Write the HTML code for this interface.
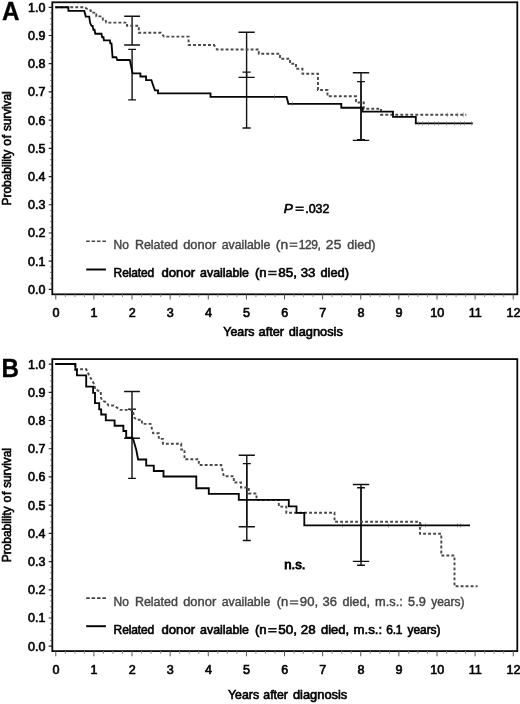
<!DOCTYPE html>
<html><head><meta charset="utf-8"><title>Survival curves</title>
<style>
html,body{margin:0;padding:0;background:#fff;}
body{width:520px;height:704px;overflow:hidden;font-family:"Liberation Sans",sans-serif;}
svg{display:block;will-change:transform;opacity:0.999;}
.t{font-family:"Liberation Sans",sans-serif;font-size:12px;fill:#000;stroke:#000;stroke-width:0.6px;}
.g{font-family:"Liberation Sans",sans-serif;font-size:12px;fill:#444;stroke:#444;stroke-width:0.4px;}
.n{stroke-width:0.8px;}
.L{font-family:"Liberation Sans",sans-serif;font-size:25px;font-weight:bold;fill:#000;stroke:#000;stroke-width:0.3px;}
.s{stroke:#050505;stroke-width:1.85;fill:none;stroke-linejoin:miter;}
.d{stroke:#4a4a4a;stroke-width:1.9;fill:none;stroke-dasharray:2.9,2.1;}
</style></head><body>
<svg width="520" height="704" viewBox="0 0 520 704">
<rect width="520" height="704" fill="#fff"/>
<!-- Panel A -->
<rect x="52.3" y="2.30" width="465.00" height="292.00" fill="none" stroke="#0a0a0a" stroke-width="1.8"/>
<path d="M48.699999999999996,289.40 H52.3 M48.699999999999996,261.19 H52.3 M48.699999999999996,232.98 H52.3 M48.699999999999996,204.77 H52.3 M48.699999999999996,176.56 H52.3 M48.699999999999996,148.35 H52.3 M48.699999999999996,120.14 H52.3 M48.699999999999996,91.93 H52.3 M48.699999999999996,63.72 H52.3 M48.699999999999996,35.51 H52.3 M48.699999999999996,7.30 H52.3 " stroke="#222" stroke-width="1.2" fill="none"/>
<path d="M50.199999999999996,283.76 H52.3 M50.199999999999996,278.12 H52.3 M50.199999999999996,272.47 H52.3 M50.199999999999996,266.83 H52.3 M50.199999999999996,255.55 H52.3 M50.199999999999996,249.91 H52.3 M50.199999999999996,244.26 H52.3 M50.199999999999996,238.62 H52.3 M50.199999999999996,227.34 H52.3 M50.199999999999996,221.70 H52.3 M50.199999999999996,216.05 H52.3 M50.199999999999996,210.41 H52.3 M50.199999999999996,199.13 H52.3 M50.199999999999996,193.49 H52.3 M50.199999999999996,187.84 H52.3 M50.199999999999996,182.20 H52.3 M50.199999999999996,170.92 H52.3 M50.199999999999996,165.28 H52.3 M50.199999999999996,159.63 H52.3 M50.199999999999996,153.99 H52.3 M50.199999999999996,142.71 H52.3 M50.199999999999996,137.07 H52.3 M50.199999999999996,131.42 H52.3 M50.199999999999996,125.78 H52.3 M50.199999999999996,114.50 H52.3 M50.199999999999996,108.86 H52.3 M50.199999999999996,103.21 H52.3 M50.199999999999996,97.57 H52.3 M50.199999999999996,86.29 H52.3 M50.199999999999996,80.65 H52.3 M50.199999999999996,75.00 H52.3 M50.199999999999996,69.36 H52.3 M50.199999999999996,58.08 H52.3 M50.199999999999996,52.44 H52.3 M50.199999999999996,46.79 H52.3 M50.199999999999996,41.15 H52.3 M50.199999999999996,29.87 H52.3 M50.199999999999996,24.23 H52.3 M50.199999999999996,18.58 H52.3 M50.199999999999996,12.94 H52.3 " stroke="#444" stroke-width="0.8" fill="none"/>
<path d="M55.80,294.30 V299.50 M93.92,294.30 V299.50 M132.04,294.30 V299.50 M170.16,294.30 V299.50 M208.28,294.30 V299.50 M246.40,294.30 V299.50 M284.52,294.30 V299.50 M322.64,294.30 V299.50 M360.76,294.30 V299.50 M398.88,294.30 V299.50 M437.00,294.30 V299.50 M475.12,294.30 V299.50 M513.24,294.30 V299.50 " stroke="#555" stroke-width="1.0" fill="none"/>
<path d="M65.33,294.30 V297.10 M74.86,294.30 V297.10 M84.39,294.30 V297.10 M103.45,294.30 V297.10 M112.98,294.30 V297.10 M122.51,294.30 V297.10 M141.57,294.30 V297.10 M151.10,294.30 V297.10 M160.63,294.30 V297.10 M179.69,294.30 V297.10 M189.22,294.30 V297.10 M198.75,294.30 V297.10 M217.81,294.30 V297.10 M227.34,294.30 V297.10 M236.87,294.30 V297.10 M255.93,294.30 V297.10 M265.46,294.30 V297.10 M274.99,294.30 V297.10 M294.05,294.30 V297.10 M303.58,294.30 V297.10 M313.11,294.30 V297.10 M332.17,294.30 V297.10 M341.70,294.30 V297.10 M351.23,294.30 V297.10 M370.29,294.30 V297.10 M379.82,294.30 V297.10 M389.35,294.30 V297.10 M408.41,294.30 V297.10 M417.94,294.30 V297.10 M427.47,294.30 V297.10 M446.53,294.30 V297.10 M456.06,294.30 V297.10 M465.59,294.30 V297.10 M484.65,294.30 V297.10 M494.18,294.30 V297.10 M503.71,294.30 V297.10 " stroke="#888" stroke-width="0.9" fill="none"/>
<text transform="translate(45.4,293.90) scale(1.04,1)" text-anchor="end" class="t">0.0</text>
<text transform="translate(45.4,265.69) scale(1.04,1)" text-anchor="end" class="t">0.1</text>
<text transform="translate(45.4,237.48) scale(1.04,1)" text-anchor="end" class="t">0.2</text>
<text transform="translate(45.4,209.27) scale(1.04,1)" text-anchor="end" class="t">0.3</text>
<text transform="translate(45.4,181.06) scale(1.04,1)" text-anchor="end" class="t">0.4</text>
<text transform="translate(45.4,152.85) scale(1.04,1)" text-anchor="end" class="t">0.5</text>
<text transform="translate(45.4,124.64) scale(1.04,1)" text-anchor="end" class="t">0.6</text>
<text transform="translate(45.4,96.43) scale(1.04,1)" text-anchor="end" class="t">0.7</text>
<text transform="translate(45.4,68.22) scale(1.04,1)" text-anchor="end" class="t">0.8</text>
<text transform="translate(45.4,40.01) scale(1.04,1)" text-anchor="end" class="t">0.9</text>
<text transform="translate(45.4,11.80) scale(1.04,1)" text-anchor="end" class="t">1.0</text>
<text transform="translate(56.00,317.20) scale(1.05,1)" text-anchor="middle" class="t">0</text>
<text transform="translate(94.12,317.20) scale(1.05,1)" text-anchor="middle" class="t">1</text>
<text transform="translate(132.24,317.20) scale(1.05,1)" text-anchor="middle" class="t">2</text>
<text transform="translate(170.36,317.20) scale(1.05,1)" text-anchor="middle" class="t">3</text>
<text transform="translate(208.48,317.20) scale(1.05,1)" text-anchor="middle" class="t">4</text>
<text transform="translate(246.60,317.20) scale(1.05,1)" text-anchor="middle" class="t">5</text>
<text transform="translate(284.72,317.20) scale(1.05,1)" text-anchor="middle" class="t">6</text>
<text transform="translate(322.84,317.20) scale(1.05,1)" text-anchor="middle" class="t">7</text>
<text transform="translate(360.96,317.20) scale(1.05,1)" text-anchor="middle" class="t">8</text>
<text transform="translate(399.08,317.20) scale(1.05,1)" text-anchor="middle" class="t">9</text>
<text transform="translate(437.20,317.20) scale(1.05,1)" text-anchor="middle" class="t">10</text>
<text transform="translate(475.32,317.20) scale(1.05,1)" text-anchor="middle" class="t">11</text>
<text transform="translate(513.44,317.20) scale(1.05,1)" text-anchor="middle" class="t">12</text>
<text transform="translate(1.9,19.50) scale(0.97,1)" class="L">A</text>
<g transform="translate(10.6,0) rotate(-90)">
<text transform="translate(-205.56,0.00) scale(1.0000,1)" class="t" letter-spacing="-0.018">Probability</text>
<text transform="translate(-145.68,0.00) scale(1.0000,1)" class="t" letter-spacing="0.720">of</text>
<text transform="translate(-131.06,0.00) scale(1.0000,1)" class="t" letter-spacing="-0.140">survival</text>
</g>
<text transform="translate(223.33,336.00) scale(1.0306,1)" class="t" letter-spacing="0.000">Years</text>
<text transform="translate(258.59,336.00) scale(1.0653,1)" class="t" letter-spacing="0.000">after</text>
<text transform="translate(288.69,336.00) scale(1.0703,1)" class="t" letter-spacing="0.000">diagnosis</text>
<path d="M132.1,16.2 V45.0 M124.19999999999999,16.2 H140.0 M124.19999999999999,45.0 H140.0" stroke="#111" stroke-width="1.4" fill="none"/>
<path d="M246.6,32.2 V77.4 M238.5,32.2 H254.7 M238.5,77.4 H254.7" stroke="#111" stroke-width="1.4" fill="none"/>
<path d="M361.0,72.8 V140.4 M352.8,72.8 H369.2 M352.8,140.4 H369.2" stroke="#111" stroke-width="1.4" fill="none"/>
<path d="M132.1,49.4 V99.9 M128.2,49.4 H136.0 M128.2,99.9 H136.0" stroke="#111" stroke-width="1.4" fill="none"/>
<path d="M246.6,72.1 V128.0 M242.5,72.1 H250.7 M242.5,128.0 H250.7" stroke="#111" stroke-width="1.4" fill="none"/>
<path d="M361.0,81.6 V139.6 M357.1,81.6 H364.9 M357.1,139.6 H364.9" stroke="#111" stroke-width="1.4" fill="none"/>
<path class="d" d="M55.3,7.2 H84.5 L87.7,9.3 L90.8,10.4 V12.6 H96.3 V16.4 H102.4 L103,19.8 H105.5 L106.2,22.6 H127 V25.8 H138.8 V32.7 H161 L164,36.6 H188.6 V45 H214 L217,49.5 H258.8 V53.8 H280 V58.8 H290 V63.8 H296 V68.8 H302.5 V73.8 H318 V90 H327.5 V96.3 H356 V102.5 H363.8 V108.8 H381 V114.8 H466.3"/>
<path class="s" d="M55.3,7.2 H68.4 V10.9 H84.3 L85.8,16.6 H89.2 L90.1,22.8 L91.5,25.8 H92.6 L93.4,29.7 H94.5 L95.3,33.7 H101.5 L102.2,37.2 H103.5 L103.9,40.3 H109.9 L110.3,43.4 H111.5 L112.6,57.2 H116.3 L117.3,60 H129.8 L132.6,73.3 H140.4 V76.5 H146.1 V80.1 H151.4 L153.7,87 L155,90.3 H158 V93.4 H210.5 V96.8 H286.6 L288.4,103.8 H341.3 V107.7 H362.5 V111.6 H393 V116.8 H415.8 V123.3 H472.8"/>
<text transform="translate(283.69,212.70) scale(1.1376,1)" class="t" letter-spacing="0.000" font-style="italic">P</text>
<path d="M295.50,207.30 H303.70 M295.50,210.25 H303.70" stroke="#111" stroke-width="1.5" fill="none"/>
<text transform="translate(305.18,212.70) scale(1.0405,1)" class="t" letter-spacing="0.000">.032</text>
<path d="M86.2,241.2 H105.9" stroke="#444" stroke-width="1.6" stroke-dasharray="3.5,1.9" fill="none"/>
<path d="M86.2,269.5 H105.9" stroke="#050505" stroke-width="2.0" fill="none"/>
<text transform="translate(113.59,248.60) scale(1.0000,1)" class="g" letter-spacing="-0.020">No</text>
<text transform="translate(134.90,248.60) scale(1.0404,1)" class="g" letter-spacing="0.000">Related</text>
<text transform="translate(183.18,248.60) scale(1.0767,1)" class="g" letter-spacing="0.000">donor</text>
<text transform="translate(221.71,248.60) scale(1.0255,1)" class="g" letter-spacing="0.000">available</text>
<text transform="translate(275.72,248.60) scale(1.1500,1)" class="g" letter-spacing="0.141">(n</text>
<path d="M289.60,243.20 H297.40 M289.60,246.15 H297.40" stroke="#626262" stroke-width="1.5" fill="none"/>
<text transform="translate(298.84,248.60) scale(1.0000,1)" class="g" letter-spacing="-0.487">129,</text>
<text transform="translate(325.86,248.60) scale(1.1500,1)" class="g" letter-spacing="0.282">25</text>
<text transform="translate(347.29,248.60) scale(1.0574,1)" class="g" letter-spacing="0.000">died)</text>
<text transform="translate(113.59,277.00) scale(1.0000,1)" class="t" letter-spacing="-0.117">Related</text>
<text transform="translate(161.47,277.00) scale(1.0967,1)" class="t" letter-spacing="-0.000">donor</text>
<text transform="translate(200.10,277.00) scale(1.0330,1)" class="t" letter-spacing="0.000">available</text>
<text transform="translate(254.91,277.00) scale(1.0965,1)" class="t" letter-spacing="0.000">(n</text>
<path d="M268.20,271.60 H276.60 M268.20,274.55 H276.60" stroke="#111" stroke-width="1.5" fill="none"/>
<text transform="translate(278.36,277.00) scale(1.1243,1)" class="t" letter-spacing="0.000">85,</text>
<text transform="translate(300.77,277.00) scale(1.1003,1)" class="t" letter-spacing="0.000">33</text>
<text transform="translate(320.49,277.00) scale(1.0692,1)" class="t" letter-spacing="0.000">died)</text>
<path d="M274.5,94.5 V99.1 M292.5,101.5 V106.1 M418.5,121.0 V125.6 M422.5,121.0 V125.6 M428.5,121.0 V125.6 M434.5,121.0 V125.6 M438.5,121.0 V125.6 M446.5,121.0 V125.6 M454.5,121.0 V125.6 M460.5,121.0 V125.6 M464.5,121.0 V125.6 M471.5,121.0 V125.6 M447.5,112.5 V117.1 M457.5,112.5 V117.1 M463.5,112.5 V117.1 M342.5,523.1 V527.7 M388.5,523.1 V527.7 M421.5,523.1 V527.7 M425.5,523.1 V527.7 M457.5,523.1 V527.7 M460.5,523.1 V527.7 " stroke="#777" stroke-width="0.7" fill="none" opacity="0.7"/>
<!-- Panel B -->
<rect x="52.3" y="359.10" width="465.00" height="292.00" fill="none" stroke="#0a0a0a" stroke-width="1.8"/>
<path d="M48.699999999999996,646.20 H52.3 M48.699999999999996,617.99 H52.3 M48.699999999999996,589.78 H52.3 M48.699999999999996,561.57 H52.3 M48.699999999999996,533.36 H52.3 M48.699999999999996,505.15 H52.3 M48.699999999999996,476.94 H52.3 M48.699999999999996,448.73 H52.3 M48.699999999999996,420.52 H52.3 M48.699999999999996,392.31 H52.3 M48.699999999999996,364.10 H52.3 " stroke="#222" stroke-width="1.2" fill="none"/>
<path d="M50.199999999999996,640.56 H52.3 M50.199999999999996,634.92 H52.3 M50.199999999999996,629.27 H52.3 M50.199999999999996,623.63 H52.3 M50.199999999999996,612.35 H52.3 M50.199999999999996,606.71 H52.3 M50.199999999999996,601.06 H52.3 M50.199999999999996,595.42 H52.3 M50.199999999999996,584.14 H52.3 M50.199999999999996,578.50 H52.3 M50.199999999999996,572.85 H52.3 M50.199999999999996,567.21 H52.3 M50.199999999999996,555.93 H52.3 M50.199999999999996,550.29 H52.3 M50.199999999999996,544.64 H52.3 M50.199999999999996,539.00 H52.3 M50.199999999999996,527.72 H52.3 M50.199999999999996,522.08 H52.3 M50.199999999999996,516.43 H52.3 M50.199999999999996,510.79 H52.3 M50.199999999999996,499.51 H52.3 M50.199999999999996,493.87 H52.3 M50.199999999999996,488.22 H52.3 M50.199999999999996,482.58 H52.3 M50.199999999999996,471.30 H52.3 M50.199999999999996,465.66 H52.3 M50.199999999999996,460.01 H52.3 M50.199999999999996,454.37 H52.3 M50.199999999999996,443.09 H52.3 M50.199999999999996,437.45 H52.3 M50.199999999999996,431.80 H52.3 M50.199999999999996,426.16 H52.3 M50.199999999999996,414.88 H52.3 M50.199999999999996,409.24 H52.3 M50.199999999999996,403.59 H52.3 M50.199999999999996,397.95 H52.3 M50.199999999999996,386.67 H52.3 M50.199999999999996,381.03 H52.3 M50.199999999999996,375.38 H52.3 M50.199999999999996,369.74 H52.3 " stroke="#444" stroke-width="0.8" fill="none"/>
<path d="M55.80,651.10 V656.30 M93.92,651.10 V656.30 M132.04,651.10 V656.30 M170.16,651.10 V656.30 M208.28,651.10 V656.30 M246.40,651.10 V656.30 M284.52,651.10 V656.30 M322.64,651.10 V656.30 M360.76,651.10 V656.30 M398.88,651.10 V656.30 M437.00,651.10 V656.30 M475.12,651.10 V656.30 M513.24,651.10 V656.30 " stroke="#555" stroke-width="1.0" fill="none"/>
<path d="M65.33,651.10 V653.90 M74.86,651.10 V653.90 M84.39,651.10 V653.90 M103.45,651.10 V653.90 M112.98,651.10 V653.90 M122.51,651.10 V653.90 M141.57,651.10 V653.90 M151.10,651.10 V653.90 M160.63,651.10 V653.90 M179.69,651.10 V653.90 M189.22,651.10 V653.90 M198.75,651.10 V653.90 M217.81,651.10 V653.90 M227.34,651.10 V653.90 M236.87,651.10 V653.90 M255.93,651.10 V653.90 M265.46,651.10 V653.90 M274.99,651.10 V653.90 M294.05,651.10 V653.90 M303.58,651.10 V653.90 M313.11,651.10 V653.90 M332.17,651.10 V653.90 M341.70,651.10 V653.90 M351.23,651.10 V653.90 M370.29,651.10 V653.90 M379.82,651.10 V653.90 M389.35,651.10 V653.90 M408.41,651.10 V653.90 M417.94,651.10 V653.90 M427.47,651.10 V653.90 M446.53,651.10 V653.90 M456.06,651.10 V653.90 M465.59,651.10 V653.90 M484.65,651.10 V653.90 M494.18,651.10 V653.90 M503.71,651.10 V653.90 " stroke="#888" stroke-width="0.9" fill="none"/>
<text transform="translate(45.4,650.70) scale(1.04,1)" text-anchor="end" class="t">0.0</text>
<text transform="translate(45.4,622.49) scale(1.04,1)" text-anchor="end" class="t">0.1</text>
<text transform="translate(45.4,594.28) scale(1.04,1)" text-anchor="end" class="t">0.2</text>
<text transform="translate(45.4,566.07) scale(1.04,1)" text-anchor="end" class="t">0.3</text>
<text transform="translate(45.4,537.86) scale(1.04,1)" text-anchor="end" class="t">0.4</text>
<text transform="translate(45.4,509.65) scale(1.04,1)" text-anchor="end" class="t">0.5</text>
<text transform="translate(45.4,481.44) scale(1.04,1)" text-anchor="end" class="t">0.6</text>
<text transform="translate(45.4,453.23) scale(1.04,1)" text-anchor="end" class="t">0.7</text>
<text transform="translate(45.4,425.02) scale(1.04,1)" text-anchor="end" class="t">0.8</text>
<text transform="translate(45.4,396.81) scale(1.04,1)" text-anchor="end" class="t">0.9</text>
<text transform="translate(45.4,368.60) scale(1.04,1)" text-anchor="end" class="t">1.0</text>
<text transform="translate(56.00,674.00) scale(1.05,1)" text-anchor="middle" class="t">0</text>
<text transform="translate(94.12,674.00) scale(1.05,1)" text-anchor="middle" class="t">1</text>
<text transform="translate(132.24,674.00) scale(1.05,1)" text-anchor="middle" class="t">2</text>
<text transform="translate(170.36,674.00) scale(1.05,1)" text-anchor="middle" class="t">3</text>
<text transform="translate(208.48,674.00) scale(1.05,1)" text-anchor="middle" class="t">4</text>
<text transform="translate(246.60,674.00) scale(1.05,1)" text-anchor="middle" class="t">5</text>
<text transform="translate(284.72,674.00) scale(1.05,1)" text-anchor="middle" class="t">6</text>
<text transform="translate(322.84,674.00) scale(1.05,1)" text-anchor="middle" class="t">7</text>
<text transform="translate(360.96,674.00) scale(1.05,1)" text-anchor="middle" class="t">8</text>
<text transform="translate(399.08,674.00) scale(1.05,1)" text-anchor="middle" class="t">9</text>
<text transform="translate(437.20,674.00) scale(1.05,1)" text-anchor="middle" class="t">10</text>
<text transform="translate(475.32,674.00) scale(1.05,1)" text-anchor="middle" class="t">11</text>
<text transform="translate(513.44,674.00) scale(1.05,1)" text-anchor="middle" class="t">12</text>
<text transform="translate(1.6,376.70) scale(0.97,1)" class="L">B</text>
<g transform="translate(10.6,0) rotate(-90)">
<text transform="translate(-562.36,0.00) scale(1.0000,1)" class="t" letter-spacing="-0.018">Probability</text>
<text transform="translate(-502.48,0.00) scale(1.0000,1)" class="t" letter-spacing="0.720">of</text>
<text transform="translate(-487.86,0.00) scale(1.0000,1)" class="t" letter-spacing="-0.140">survival</text>
</g>
<text transform="translate(228.03,698.50) scale(1.0272,1)" class="t" letter-spacing="0.000">Years</text>
<text transform="translate(263.31,698.50) scale(1.0266,1)" class="t" letter-spacing="0.000">after</text>
<text transform="translate(292.88,698.50) scale(1.0743,1)" class="t" letter-spacing="0.000">diagnosis</text>
<path d="M132.0,391.5 V438.2 M124.1,391.5 H139.9 M124.1,438.2 H139.9" stroke="#111" stroke-width="1.4" fill="none"/>
<path d="M246.8,455.2 V526.8 M238.70000000000002,455.2 H254.9 M238.70000000000002,526.8 H254.9" stroke="#111" stroke-width="1.4" fill="none"/>
<path d="M361.0,484.5 V561.4 M352.8,484.5 H369.2 M352.8,561.4 H369.2" stroke="#111" stroke-width="1.4" fill="none"/>
<path d="M132.0,409.3 V478.4 M128.1,409.3 H135.9 M128.1,478.4 H135.9" stroke="#111" stroke-width="1.4" fill="none"/>
<path d="M246.8,463.6 V540.5 M242.8,463.6 H250.8 M242.8,540.5 H250.8" stroke="#111" stroke-width="1.4" fill="none"/>
<path d="M361.0,487.8 V565.3 M357.1,487.8 H364.9 M357.1,565.3 H364.9" stroke="#111" stroke-width="1.4" fill="none"/>
<path class="d" d="M55.3,364.0 H75.2 V369.2 H86.3 L87.5,372 L90,377 L92.5,381 L94.5,385 L95.2,389.5 L100.8,391.6 V397.4 L102.3,400.8 L106.5,402.2 L108.5,405.5 H113.8 L117,407.6 L120,409.9 H132.5 L134.4,417.5 L136.3,419.8 H141.9 V423.9 H150.6 L153.1,433.2 H158.8 V438.9 H163 V443.8 H181.2 V449.5 H184.5 V459.3 H198.8 V465 H221.3 L223.8,476.3 H233.8 V482.5 H241 V487.5 H248.8 V493.5 H256.5 V500 H278.8 V506.6 H286.3 V512.8 H334.5 V521.8 H420 V533.8 H441.3 V555.5 H454.5 V586.3 H477.5"/>
<path class="s" d="M55.3,364.0 H75.4 V369.7 H76.9 V375.4 H86.2 V386.6 H93.1 V392.8 H95 V403.1 H99.2 V409.3 H101.2 V414.5 H105.8 V420.3 H114.6 V425.7 H123.4 V431 H126.2 V437.6 H132.5 L133.8,441.3 L136.3,450 L138.1,459.5 H146.2 V465.6 H153.8 V471 H163.5 V476.5 H196.3 V488.2 H208.8 V493.8 H238.8 V499.9 H288.8 V506.3 H296.5 V512.8 H304.3 V525.4 H470"/>
<text transform="translate(284.28,568.90) scale(1.0977,1)" class="t n" letter-spacing="0.000">n.s.</text>
<path d="M86.2,598.1 H105.9" stroke="#444" stroke-width="1.6" stroke-dasharray="3.5,1.9" fill="none"/>
<path d="M86.2,626.2 H105.9" stroke="#050505" stroke-width="2.0" fill="none"/>
<text transform="translate(113.59,606.30) scale(1.0000,1)" class="g" letter-spacing="-0.020">No</text>
<text transform="translate(134.90,606.30) scale(1.0404,1)" class="g" letter-spacing="0.000">Related</text>
<text transform="translate(183.18,606.30) scale(1.0767,1)" class="g" letter-spacing="0.000">donor</text>
<text transform="translate(221.71,606.30) scale(1.0255,1)" class="g" letter-spacing="0.000">available</text>
<text transform="translate(276.73,606.30) scale(1.0746,1)" class="g" letter-spacing="0.000">(n</text>
<path d="M289.90,600.90 H298.20 M289.90,603.85 H298.20" stroke="#626262" stroke-width="1.5" fill="none"/>
<text transform="translate(299.84,606.30) scale(1.0933,1)" class="g" letter-spacing="0.000">90,</text>
<text transform="translate(322.48,606.30) scale(1.0841,1)" class="g" letter-spacing="0.000">36</text>
<text transform="translate(342.49,606.30) scale(1.0580,1)" class="g" letter-spacing="0.000">died,</text>
<text transform="translate(375.10,606.30) scale(1.0708,1)" class="g" letter-spacing="0.000">m.s.:</text>
<text transform="translate(408.09,606.30) scale(1.0641,1)" class="g" letter-spacing="0.000">5.9</text>
<text transform="translate(431.20,606.30) scale(1.0000,1)" class="g" letter-spacing="-0.008">years)</text>
<text transform="translate(113.59,634.25) scale(1.0000,1)" class="t" letter-spacing="-0.117">Related</text>
<text transform="translate(161.47,634.25) scale(1.0967,1)" class="t" letter-spacing="-0.000">donor</text>
<text transform="translate(200.10,634.25) scale(1.0330,1)" class="t" letter-spacing="0.000">available</text>
<text transform="translate(254.91,634.25) scale(1.0965,1)" class="t" letter-spacing="0.000">(n</text>
<path d="M268.20,628.85 H276.60 M268.20,631.80 H276.60" stroke="#111" stroke-width="1.5" fill="none"/>
<text transform="translate(278.26,634.25) scale(1.1310,1)" class="t" letter-spacing="-0.000">50,</text>
<text transform="translate(300.83,634.25) scale(1.1111,1)" class="t" letter-spacing="0.000">28</text>
<text transform="translate(320.98,634.25) scale(1.0825,1)" class="t" letter-spacing="0.000">died,</text>
<text transform="translate(353.47,634.25) scale(1.1042,1)" class="t" letter-spacing="0.000">m.s.:</text>
<text transform="translate(386.30,634.25) scale(1.0000,1)" class="t" letter-spacing="-0.240">6.1</text>
<text transform="translate(407.50,634.25) scale(1.0000,1)" class="t" letter-spacing="-0.068">years)</text>
</svg>
</body></html>
